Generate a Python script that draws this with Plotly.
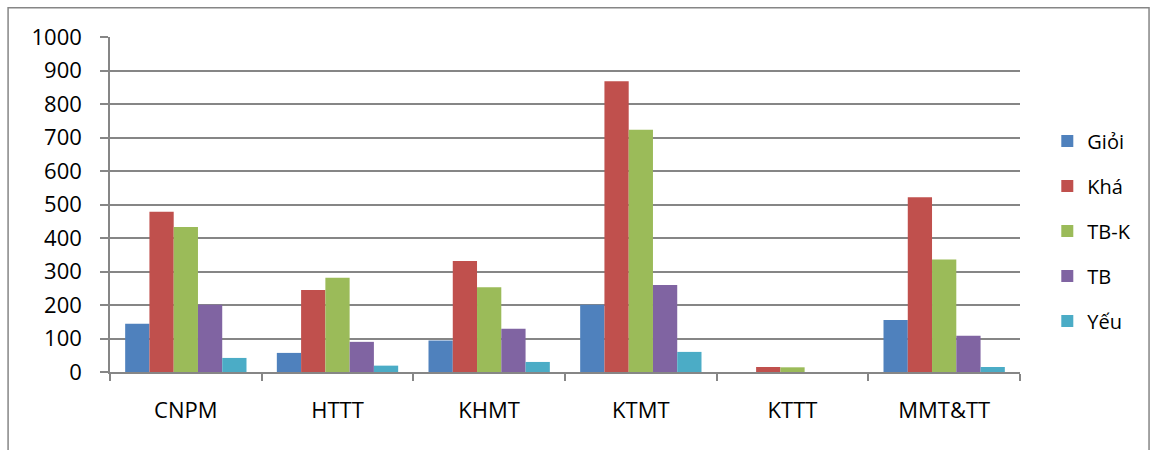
import plotly.graph_objects as go

categories = ["CNPM", "HTTT", "KHMT", "KTMT", "KTTT", "MMT&TT"]
series_names = ["Giỏi", "Khá", "TB-K", "TB", "Yếu"]
gioi = [144, 57, 94, 201, 0, 155]
kha = [478, 245, 331, 868, 15, 522]
tbk = [433, 281, 253, 723, 14, 336]
tb = [201, 90, 129, 260, 0, 108]
yeu = [42, 19, 30, 60, 0, 15]
colors = ["#4F81BD", "#C0504D", "#9BBB59", "#8064A2", "#4BACC6"]
y_ticks = [0, 100, 200, 300, 400, 500, 600, 700, 800, 900, 1000]

FONT = "Open Sans"
fig = go.Figure()
for i, (name, vals) in enumerate(zip(series_names, [gioi, kha, tbk, tb, yeu])):
    fig.add_trace(go.Bar(
        x=categories, y=vals, name=name,
        marker=dict(color=colors[i], line=dict(width=0)),
        legendgroup=name,
    ))

fig.update_layout(
    width=1152, height=450,
    margin=dict(l=110, r=132, t=37, b=78),
    paper_bgcolor="white", plot_bgcolor="white",
    barmode="group", bargap=0.2, bargroupgap=0,
    font=dict(family=FONT, size=22, color="#000000"),
    legend=dict(
        x=1.030, y=0.748, xanchor="left", yanchor="top",
        font=dict(family=FONT, size=20, color="#000000"),
        tracegroupgap=16, itemwidth=30,
        bgcolor="rgba(0,0,0,0)",
    ),
    showlegend=True,
)
fig.update_xaxes(
    type="category", showline=True, linecolor="#868686", linewidth=1.5,
    ticks="outside", tickson="boundaries", ticklen=7, tickcolor="#868686", tickwidth=1.5,
    showgrid=False, ticklabelstandoff=18,
    tickfont=dict(family=FONT, size=22, color="#000000"),
)
fig.update_yaxes(
    range=[0, 1000], tickvals=y_ticks, showline=True, linecolor="#868686", linewidth=1.5,
    ticks="outside", ticklen=8, tickcolor="#868686", tickwidth=1.5,
    showgrid=True, gridcolor="#868686", gridwidth=1.5, zeroline=False,
    ticklabelstandoff=14,
    tickfont=dict(family=FONT, size=22, color="#000000"),
)
fig.add_shape(type="rect", xref="paper", yref="paper",
              x0=-0.112, x1=1.1418, y0=-0.3, y1=1.0875,
              line=dict(color="#868686", width=1.5), fillcolor="rgba(0,0,0,0)", layer="below")

fig.write_html("out.html")
